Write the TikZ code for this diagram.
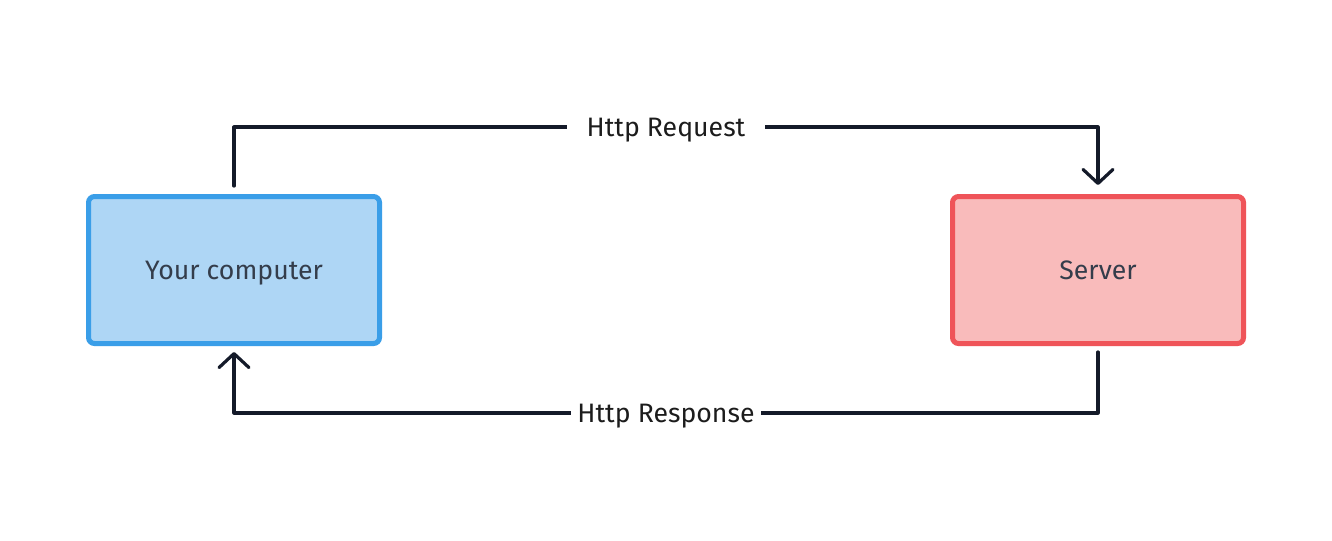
\documentclass[tikz,border=0pt]{standalone}
\usepackage{fontspec}
\setmainfont{Fira Sans}
\usetikzlibrary{arrows.meta}
\definecolor{compfill}{HTML}{AED6F5}
\definecolor{compdraw}{HTML}{3A9EE8}
\definecolor{servfill}{HTML}{F9BBBB}
\definecolor{servdraw}{HTML}{EF5459}
\definecolor{linecol}{HTML}{141A29}
\definecolor{boxtext}{HTML}{343D4B}
\definecolor{labeltext}{HTML}{1C1C1C}
\begin{document}
\begin{tikzpicture}[x=0.75pt,y=-0.75pt,
  boxtxt/.style={font=\fontsize{20}{24}\selectfont, text height=13.8pt, text depth=0pt},
  box/.style={rectangle, rounded corners=4.5pt, line width=3.75pt,
    minimum width=218.25pt, minimum height=110.25pt,
    text=boxtext, boxtxt},
  conn/.style={draw=linecol, line width=2.4pt, line cap=round, line join=round},
  tip/.style={-{Straight Barb[length=10.5pt,width=22.5pt,line cap=round,round]}},
  lbl/.style={fill=white, text=labeltext, inner xsep=15pt, inner ysep=4pt, boxtxt}]
\useasboundingbox[fill=white] (0,0) rectangle (1332,540);
\node[box, fill=compfill, draw=compdraw] (comp) at (234,270) {Your computer};
\node[box, fill=servfill, draw=servdraw] (serv) at (1098,270) {Server};
\coordinate (rqa) at (234,127);
\coordinate (rqb) at (1098,127);
\coordinate (rsa) at (1098,413);
\coordinate (rsb) at (234,413);
\draw[conn,tip] ([yshift=6pt]comp.north) -- (rqa) -- node[lbl] (reqlbl) {Http Request} (rqb) -- ([yshift=6.75pt]serv.north);
\draw[conn,tip] ([yshift=-4.5pt]serv.south) -- (rsa) -- node[lbl, inner xsep=5pt] (reslbl) {Http Response} (rsb) -- ([yshift=-4.5pt]comp.south);
\end{tikzpicture}
\end{document}
